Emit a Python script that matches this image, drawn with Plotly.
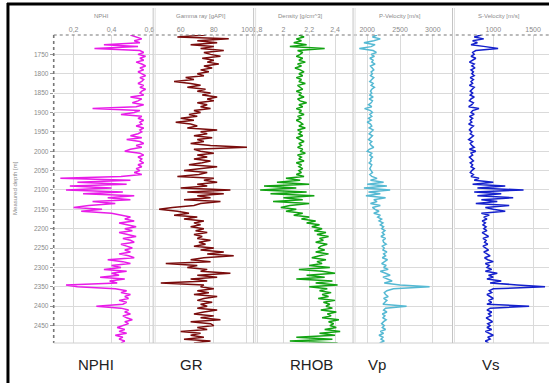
import plotly.graph_objects as go

W, H = 550, 383

# Measured depth (m), 5 m sampling
depth = list(range(1700, 2500, 5))

nphi = [
    0.50, 0.53, 0.56, 0.52, 0.55, 0.36, 0.54, 0.31, 0.55, 0.57,
    0.54, 0.58, 0.55, 0.57, 0.53, 0.56, 0.58, 0.55, 0.57, 0.54,
    0.56, 0.58, 0.55, 0.57, 0.56, 0.54, 0.57, 0.55, 0.58, 0.56,
    0.55, 0.57, 0.50, 0.56, 0.54, 0.51, 0.57, 0.53, 0.30, 0.55,
    0.52, 0.45, 0.56, 0.54, 0.57, 0.55, 0.56, 0.53, 0.57, 0.55,
    0.56, 0.54, 0.50, 0.56, 0.48, 0.55, 0.57, 0.53, 0.56, 0.50,
    0.47, 0.55, 0.57, 0.54, 0.56, 0.55, 0.57, 0.54, 0.56, 0.53,
    0.55, 0.52, 0.56, 0.45, 0.13, 0.50, 0.22, 0.48, 0.18, 0.40,
    0.16, 0.46, 0.25, 0.52, 0.38, 0.50, 0.30, 0.42, 0.28, 0.20,
    0.35, 0.24, 0.40, 0.45, 0.50, 0.47, 0.52, 0.44, 0.48, 0.53,
    0.47, 0.51, 0.44, 0.49, 0.53, 0.46, 0.50, 0.52, 0.45, 0.48,
    0.51, 0.47, 0.50, 0.44, 0.49, 0.52, 0.38, 0.46, 0.50, 0.40,
    0.45, 0.36, 0.48, 0.40, 0.44, 0.34, 0.47, 0.39, 0.43, 0.16,
    0.22, 0.42, 0.48, 0.45, 0.50, 0.47, 0.49, 0.44, 0.48, 0.46,
    0.32, 0.45, 0.49, 0.47, 0.50, 0.46, 0.48, 0.51, 0.47, 0.49,
    0.46, 0.43, 0.47, 0.44, 0.48, 0.42, 0.46, 0.44, 0.47, 0.45,
]

gr = [
    75, 58, 89, 70, 82, 66, 80, 72, 86, 74,
    78, 84, 73, 80, 76, 83, 74, 79, 72, 77,
    70, 74, 63, 68, 56, 66, 72, 64, 75, 70,
    78, 73, 82, 76, 80, 70, 76, 72, 78, 68,
    72, 65, 70, 60, 68, 57, 66, 70, 64, 82,
    72, 76, 68, 79, 70, 74, 66, 78, 100, 68,
    72, 80, 70, 76, 68, 78, 73, 65, 82, 70,
    62, 76, 71, 58, 80, 74, 82, 70, 76, 60,
    90, 64, 86, 70, 78, 62, 84, 72, 68, 55,
    47, 58, 65, 56, 70, 62, 74, 68, 72, 66,
    74, 69, 76, 68, 73, 70, 78, 71, 75, 68,
    80, 72, 86, 76, 92, 74, 66, 78, 51, 70,
    64, 76, 72, 90, 70, 82, 66, 76, 48, 74,
    72, 80, 70, 77, 68, 82, 74, 70, 79, 72,
    76, 70, 82, 74, 68, 80, 72, 84, 66, 78,
    80, 70, 76, 60, 72, 66, 74, 62, 78, 68,
]

rhob = [
    2.12, 2.16, 2.10, 2.14, 2.08, 2.18, 2.05, 2.32, 2.11, 2.15,
    2.13, 2.10, 2.15, 2.12, 2.17, 2.11, 2.14, 2.09, 2.13, 2.16,
    2.12, 2.15, 2.10, 2.14, 2.12, 2.17, 2.11, 2.13, 2.15, 2.10,
    2.14, 2.12, 2.16, 2.11, 2.13, 2.18, 2.12, 2.15, 2.10, 2.14,
    2.12, 2.16, 2.11, 2.14, 2.10, 2.13, 2.15, 2.12, 2.17, 2.11,
    2.14, 2.12, 2.15, 2.10, 2.13, 2.16, 2.12, 2.14, 2.11, 2.15,
    2.13, 2.17, 2.11, 2.14, 2.12, 2.16, 2.10, 2.14, 2.12, 2.15,
    2.12, 2.14, 2.10, 2.16, 2.02, 2.13, 1.95, 2.20, 1.85, 2.10,
    1.82, 2.18, 1.90, 2.24, 2.00, 2.15, 1.92, 2.20, 2.05, 1.98,
    2.10, 2.02, 2.15, 2.08, 2.20, 2.14, 2.25, 2.18, 2.28, 2.22,
    2.30, 2.24, 2.33, 2.26, 2.35, 2.28, 2.31, 2.25, 2.34, 2.29,
    2.27, 2.32, 2.25, 2.35, 2.28, 2.22, 2.33, 2.26, 2.30, 2.20,
    2.36, 2.12, 2.30, 2.40, 2.18, 2.32, 2.10, 2.38, 2.25, 2.42,
    2.20, 2.34, 2.28, 2.37, 2.30, 2.35, 2.27, 2.40, 2.31, 2.36,
    2.33, 2.38, 2.29, 2.41, 2.34, 2.37, 2.30, 2.43, 2.35, 2.39,
    2.36, 2.41, 2.32, 2.44, 2.28, 2.40, 2.10, 2.38, 2.05, 2.42,
]

vp = [
    2150, 2080, 2200, 2100, 1950, 2120, 2060, 1880, 2090, 2140,
    2060, 2110, 2040, 2090, 2070, 2120, 2050, 2080, 2100, 2060,
    2080, 2050, 2100, 2070, 2040, 2090, 2060, 2110, 2070, 2050,
    2070, 2040, 2090, 2030, 2080, 2060, 2020, 2070, 1960, 2050,
    2080, 2040, 2070, 2020, 2060, 2000, 2050, 2070, 2030, 2090,
    2060, 2030, 2080, 2050, 2020, 2070, 2040, 2060, 2100, 2030,
    2000, 2070, 2040, 2080, 2050, 2060, 2030, 2070, 2050, 2040,
    2060, 2080, 2040, 2070, 2150, 2050, 2250, 2000, 2300, 1950,
    2350, 2020, 2200, 1980, 2280, 2100, 2150, 2050, 2200, 2080,
    2120, 2180, 2100, 2200, 2160, 2220, 2180, 2240, 2200, 2250,
    2220, 2270, 2230, 2260, 2210, 2280, 2240, 2250, 2290, 2230,
    2260, 2240, 2300, 2250, 2280, 2230, 2310, 2260, 2220, 2290,
    2250, 2320, 2200, 2280, 2350, 2240, 2300, 2380, 2260, 2500,
    2950, 2400, 2300, 2260, 2280, 2320, 2250, 2300, 2270, 2240,
    2600, 2280, 2250, 2300, 2230, 2270, 2240, 2290, 2250, 2220,
    2260, 2230, 2280, 2200, 2250, 2180, 2240, 2210, 2260, 2190,
]

vs = [
    850, 760, 880, 740, 800, 720, 900, 1060, 780, 740,
    760, 720, 780, 740, 700, 760, 730, 770, 720, 750,
    730, 760, 710, 750, 720, 740, 700, 760, 730, 710,
    740, 710, 760, 720, 700, 750, 730, 690, 820, 740,
    720, 760, 700, 740, 710, 730, 690, 750, 720, 700,
    730, 710, 750, 720, 690, 740, 710, 730, 760, 700,
    780, 720, 740, 700, 730, 750, 710, 740, 720, 760,
    730, 710, 750, 720, 820, 760, 1000, 740, 1150, 800,
    1380, 760, 1100, 800, 1250, 850, 1050, 780, 1200, 900,
    1000, 1150, 850, 950, 880, 920, 860, 900, 870, 910,
    880, 920, 860, 900, 940, 870, 910, 890, 930, 870,
    900, 940, 880, 920, 960, 890, 930, 1000, 900, 950,
    920, 980, 900, 1050, 940, 1000, 920, 1100, 960, 1300,
    1650, 1000, 950, 980, 920, 960, 1000, 940, 980, 920,
    1450, 960, 920, 980, 940, 970, 910, 950, 990, 930,
    960, 920, 980, 900, 950, 1000, 930, 960, 900, 940,
]

track_titles = ["NPHI", "Gamma ray [gAPI]", "Density [g/cm^3]",
                "P-Velocity [m/s]", "S-Velocity [m/s]"]
track_names = ["NPHI", "GR", "RHOB", "Vp", "Vs"]
tick_vals = [[0.2, 0.4, 0.6], [60, 80, 100], [1.8, 2.0, 2.2, 2.4],
             [2000, 2500, 3000], [1000, 1500]]
tick_text = [["0,2", "0,4", "0,6"], ["60", "80", "100"],
             ["1,8", "2", "2,2", "2,4"], ["2000", "2500", "3000"],
             ["1000", "1500"]]
depth_ticks = list(range(1750, 2500, 50))

series = [nphi, gr, rhob, vp, vs]
colors = ["#E81CE8", "#7A0C0C", "#12A312", "#55B9D3", "#1420CC"]
x_ranges = [[0.095, 0.62], [44, 104], [1.777, 2.54], [1800, 3300], [500, 1700]]

# Track pixel extents
edges = [(52, 152), (153, 253), (254, 353), (354, 453), (454, 550)]
plot_top, plot_bot = 35, 343


def px(x):
    return x / W


def py(y):
    return 1 - y / H


fig = go.Figure()
layout = dict(
    width=W, height=H, margin=dict(l=0, r=0, t=0, b=0),
    paper_bgcolor="white", plot_bgcolor="white", showlegend=False,
    font=dict(family="Liberation Sans, Arial, sans-serif", color="#888"),
)

for i, vals in enumerate(series):
    xa = "x" if i == 0 else f"x{i+1}"
    fig.add_trace(go.Scatter(
        x=vals, y=depth, mode="lines", xaxis=xa, yaxis="y",
        line=dict(color=colors[i], width=1.5), hoverinfo="skip",
    ))
    key = "xaxis" if i == 0 else f"xaxis{i+1}"
    layout[key] = dict(
        domain=[px(edges[i][0]), px(edges[i][1])], anchor="y", side="top",
        range=x_ranges[i], tickvals=tick_vals[i], ticktext=tick_text[i],
        tickfont=dict(size=7, color="#8a8a8a"), ticks="", ticklabelstandoff=1,
        showgrid=True, gridcolor="#DADADA", gridwidth=1,
        zeroline=False, showline=False, fixedrange=True,
    )

layout["yaxis"] = dict(
    domain=[py(plot_bot), py(plot_top)], anchor="x",
    range=[2495, 1700], tickvals=depth_ticks,
    tickfont=dict(size=6.5, color="#8a8a8a"),
    ticks="outside", ticklen=3, tickcolor="#999",
    showgrid=True, gridcolor="#DADADA", gridwidth=1,
    zeroline=False, showline=False, fixedrange=True,
)
fig.update_layout(**layout)

shapes = []
# Outer black frame (left and top)
shapes.append(dict(type="line", xref="paper", yref="paper",
                   x0=px(6), x1=px(6), y0=py(3), y1=py(383),
                   line=dict(color="black", width=3)))
shapes.append(dict(type="line", xref="paper", yref="paper",
                   x0=px(5), x1=px(550), y0=py(4), y1=py(4),
                   line=dict(color="black", width=3)))
# Dotted top and left axis lines
shapes.append(dict(type="line", xref="paper", yref="paper",
                   x0=px(52), x1=px(550), y0=py(plot_top), y1=py(plot_top),
                   line=dict(color="#777", width=1.2, dash="dot")))
shapes.append(dict(type="line", xref="paper", yref="paper",
                   x0=px(52), x1=px(52), y0=py(plot_top), y1=py(plot_bot),
                   line=dict(color="#777", width=1.6, dash="dot")))
# Bottom edge of the tracks
shapes.append(dict(type="line", xref="paper", yref="paper",
                   x0=px(52), x1=px(550), y0=py(plot_bot), y1=py(plot_bot),
                   line=dict(color="#D0D0D0", width=1)))
# Track separators running up into the header
for a, b in edges[1:]:
    shapes.append(dict(type="line", xref="paper", yref="paper",
                       x0=px(a - 1), x1=px(a - 1), y0=py(8), y1=py(plot_bot),
                       line=dict(color="#C4C4C4", width=1)))
    shapes.append(dict(type="line", xref="paper", yref="paper",
                       x0=px(a + 1), x1=px(a + 1), y0=py(8), y1=py(plot_bot),
                       line=dict(color="#E0E0E0", width=1)))
fig.update_layout(shapes=shapes)

annotations = []
title_x = [100, 200, 300, 400, 500]
for i, t in enumerate(track_titles):
    annotations.append(dict(text=t, x=px(title_x[i]), y=py(16), xref="paper",
                            yref="paper", xanchor="center", yanchor="middle",
                            showarrow=False,
                            font=dict(size=6, color="#8a8a8a")))
# Depth axis title
annotations.append(dict(text="Measured depth [m]", x=px(13), y=py(188),
                        xref="paper", yref="paper", xanchor="center",
                        yanchor="middle", textangle=-90, showarrow=False,
                        font=dict(size=6, color="#8a8a8a")))
label_x = [95, 191, 311, 377, 492]
for i, t in enumerate(track_names):
    annotations.append(dict(text=t, x=px(label_x[i]), y=py(364), xref="paper",
                            yref="paper", xanchor="center", yanchor="middle",
                            showarrow=False,
                            font=dict(size=15, color="#222",
                                      family="Liberation Sans, Arial, sans-serif")))
fig.update_layout(annotations=annotations)

fig.write_html("out.html")
